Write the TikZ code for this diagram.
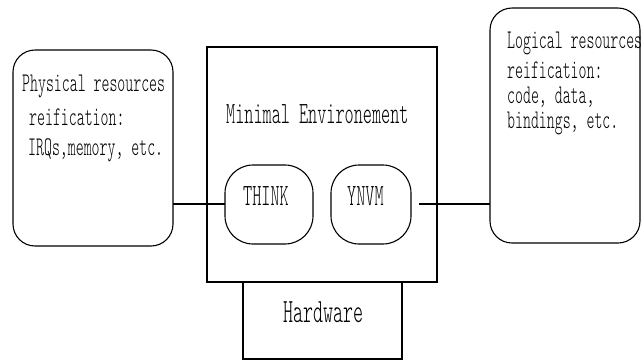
\documentclass[tikz,border=0pt]{standalone}
\usepackage{fontspec}
\newfontfamily\cf{lmmonolt10-regular.otf}[FakeStretch=0.56]
\tikzset{
  line/.style={line width=1.1pt, draw=black},
  rbox/.style={line, rounded corners=22pt},
  pill/.style={line, rounded corners=28pt},
  lbl/.style={inner sep=0pt, anchor=base west, font=\cf},
  small/.style={lbl, font=\cf\fontsize{27}{27}\selectfont},
  mid/.style={lbl, font=\cf\fontsize{31}{31}\selectfont},
  big/.style={lbl, font=\cf\fontsize{34}{34}\selectfont},
}
\begin{document}
\begin{tikzpicture}[x=1pt,y=-1pt]
\useasboundingbox (0,0) rectangle (641,360);
% left box
\draw[rbox] (13,50) rectangle (173,246);
\coordinate (lb) at (173,204);
\node[small] (l1) at (22,91) {Physical resources};
\node[small] (l2) at (29,125) {reification:};
\node[small] (l3) at (28,155) {IRQs,memory, etc.};
% main box
\draw[line] (207,47) rectangle (437,282);
\node[mid] (me) at (226,123) {Minimal Environement};
% pills
\draw[pill] (225,165) rectangle (313,244);
\draw[pill] (331,165) rectangle (411,244);
\coordinate (tk) at (225,204);
\coordinate (yn) at (419,204);
\node[mid] (think) at (243,205) {THINK};
\node[mid] (ynvm) at (347,205) {YNVM};
% hardware
\draw[line] (243,282) -- (243,359) -- (402,359) -- (402,282);
\node[big] (hw) at (283,322) {Hardware};
% right box
\draw[rbox] (490,8) -- (640,8) -- (640,243) -- (490,243) -- cycle;
\coordinate (rb) at (490,204);
\node[small] (r1) at (507,48) {Logical resources};
\node[small] (r2) at (507,78) {reification:};
\node[small] (r3) at (507,103) {code, data,};
\node[small] (r4) at (507,128) {bindings, etc.};
% connectors
\draw[line] (lb) -- (tk);
\draw[line] (yn) -- (rb);
\end{tikzpicture}
\end{document}
